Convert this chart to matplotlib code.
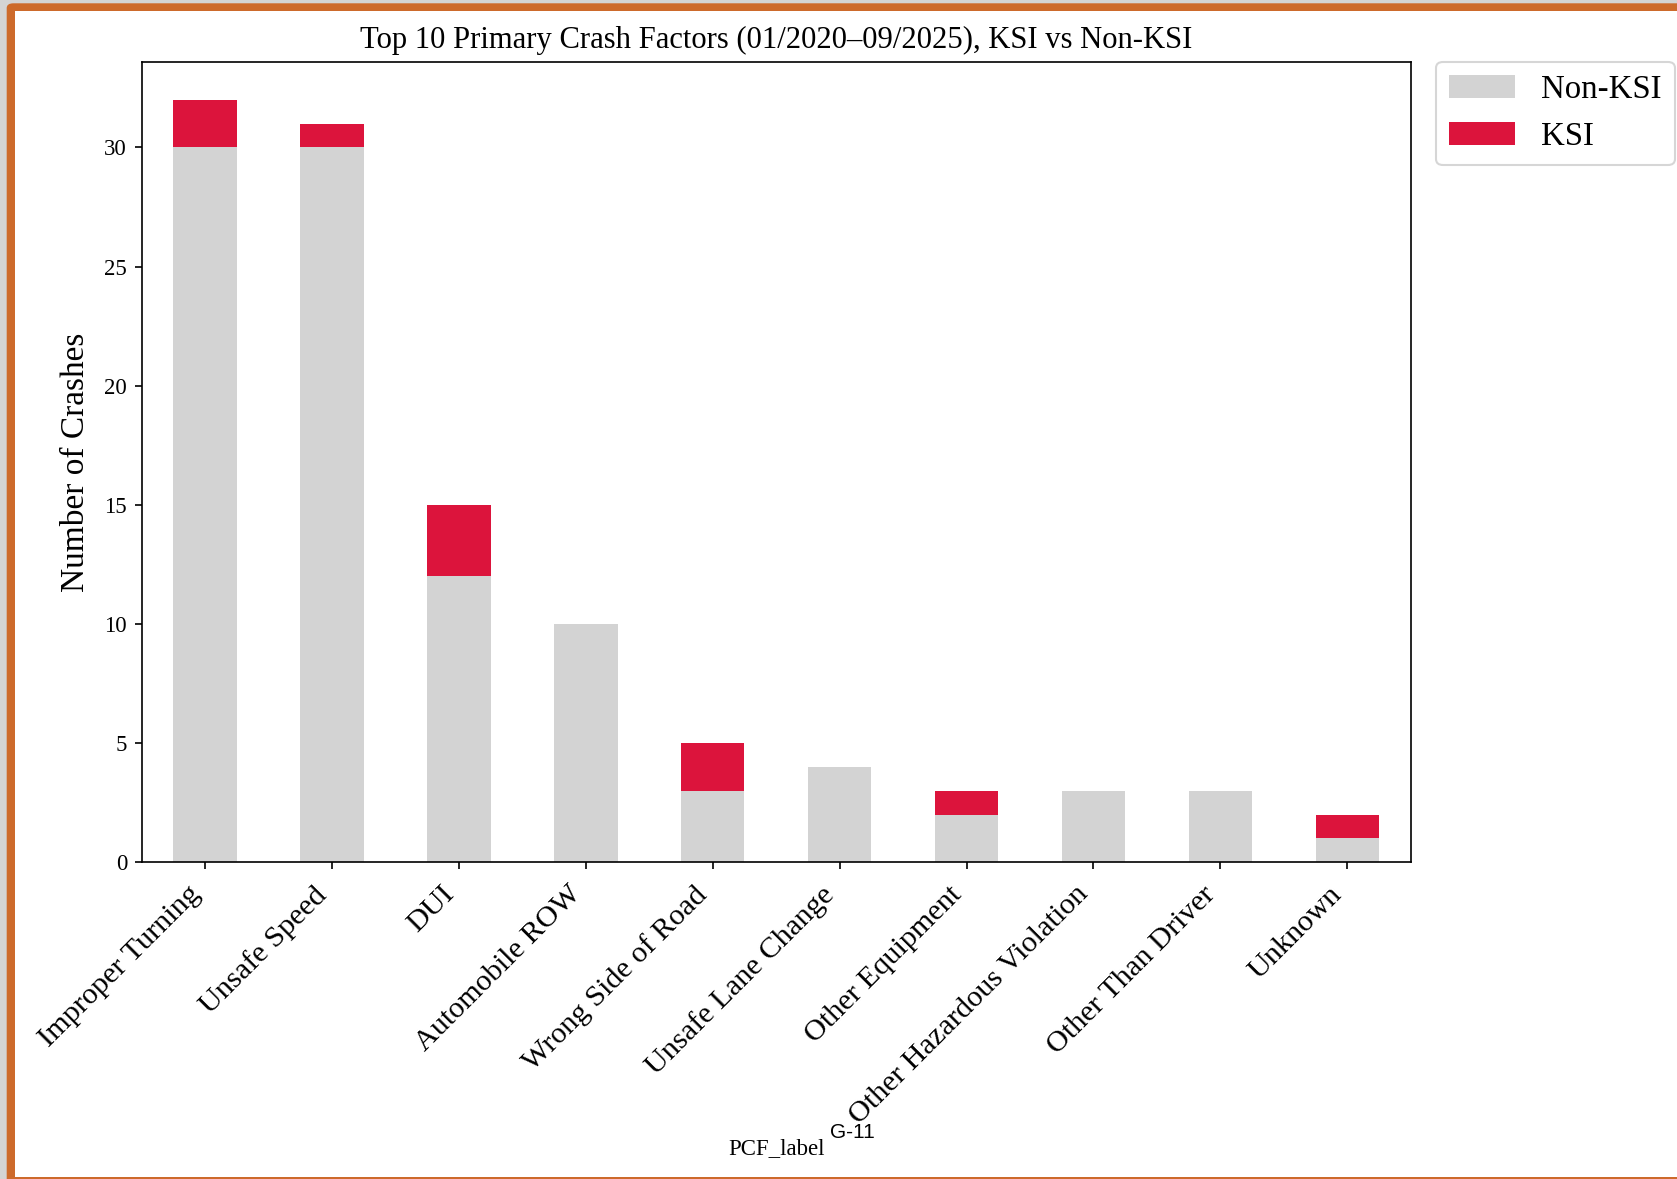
import matplotlib
matplotlib.use("Agg")
import matplotlib.pyplot as plt
from matplotlib.patches import Rectangle, FancyBboxPatch
import numpy as np

# Crash counts by primary collision factor, split by severity
categories = [
    "Improper Turning", "Unsafe Speed", "DUI", "Automobile ROW",
    "Wrong Side of Road", "Unsafe Lane Change", "Other Equipment",
    "Other Hazardous Violation", "Other Than Driver", "Unknown",
]
non_ksi = [30, 30, 12, 10, 3, 4, 2, 3, 3, 1]
ksi = [2, 1, 3, 0, 2, 0, 1, 0, 0, 1]
series_labels = ["Non-KSI", "KSI"]
series_colors = ["lightgray", "crimson"]

title = "Top 10 Primary Crash Factors (01/2020\u201309/2025), KSI vs Non-KSI"
y_label = "Number of Crashes"
x_label = "PCF_label"
page_footer = "G-11"

W, H, DPI = 1677, 1179, 150
plt.rcParams["font.family"] = ["Liberation Serif", "DejaVu Serif"]

fig = plt.figure(figsize=(W / DPI, H / DPI), dpi=DPI, facecolor="#d4d4d4")


def fx(px):
    return px / W


def fy(py):
    return 1 - py / H


# page frame: orange border around a white page
frame = FancyBboxPatch((fx(6.7), fy(1200)), fx(1720 - 6.7), (1200 - 3.3) / H,
                       boxstyle="round,pad=0,rounding_size=0.004",
                       transform=fig.transFigure, facecolor="#cd6a2b",
                       edgecolor="none", zorder=-2)
fig.patches.append(frame)
page = Rectangle((fx(15), fy(1176.7)), fx(1720 - 15), (1176.7 - 11) / H,
                 transform=fig.transFigure, facecolor="white",
                 edgecolor="none", zorder=-1)
fig.patches.append(page)

ax = fig.add_axes([fx(141.7), fy(862.3), fx(1410.7 - 141.7), (862.3 - 61.7) / H])
ax.set_facecolor("white")

x = np.arange(len(categories))
ax.bar(x, non_ksi, width=0.5, color=series_colors[0], label=series_labels[0])
ax.bar(x, ksi, width=0.5, bottom=non_ksi, color=series_colors[1], label=series_labels[1])
ax.set_xlim(-0.5, len(categories) - 0.5)

ax.set_xticks(x)
ax.set_xticklabels(categories, rotation=45, ha="right", fontsize=14.5)
ax.tick_params(axis="x", pad=5.6)
ax.tick_params(axis="y", labelsize=11)
ax.set_ylabel(y_label, fontsize=16, labelpad=6.2)
ax.set_xlabel(x_label, fontsize=11)
ax.set_title(title, fontsize=14.7, pad=6.7)

ax.legend(loc="upper left", bbox_to_anchor=(1.02, 1), borderaxespad=0, fontsize=15.8)

fig.text(fx(830), fy(1138), page_footer, family="Liberation Sans",
         fontsize=10, ha="left", va="baseline")

fig.savefig("out.png", dpi=DPI, facecolor=fig.get_facecolor())
